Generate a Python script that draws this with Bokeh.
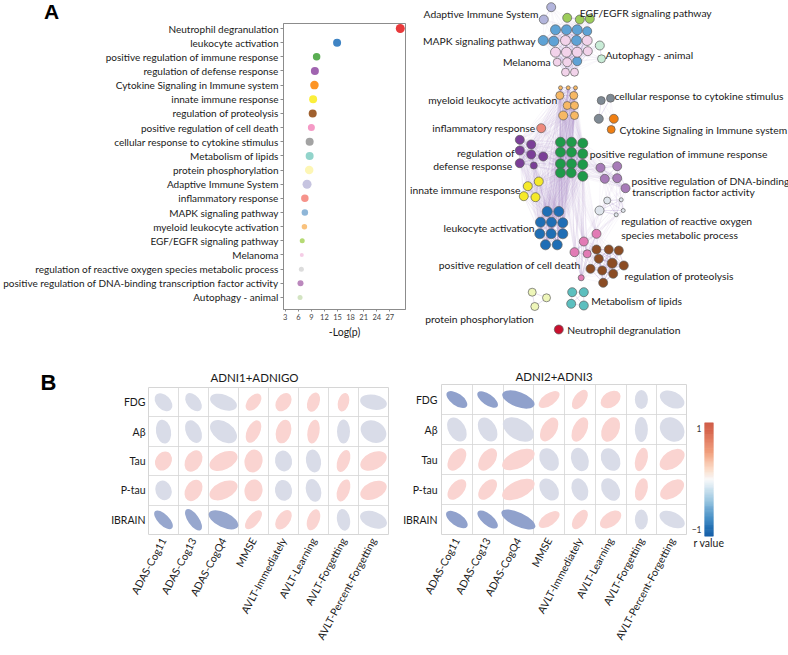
import numpy as np
from bokeh.plotting import figure
from bokeh.layouts import row, column
from bokeh.models import Range1d, FixedTicker, Plot
from bokeh.core.properties import value
from bokeh.embed import file_html
from bokeh.resources import INLINE

FONT = "Lato"
TXT = "#1a1a1a"

# ---------------- Panel A: enrichment dot plot ----------------
terms = ["Neutrophil degranulation", "leukocyte activation",
         "positive regulation of immune response", "regulation of defense response",
         "Cytokine Signaling in Immune system", "innate immune response",
         "regulation of proteolysis", "positive regulation of cell death",
         "cellular response to cytokine stimulus", "Metabolism of lipids",
         "protein phosphorylation", "Adaptive Immune System", "inflammatory response",
         "MAPK signaling pathway", "myeloid leukocyte activation",
         "EGF/EGFR signaling pathway", "Melanoma",
         "regulation of reactive oxygen species metabolic process",
         "positive regulation of DNA-binding transcription factor activity",
         "Autophagy - animal"]
neg_log_p = [29.4, 14.9, 10.2, 9.8, 9.7, 9.4, 9.3, 9.0, 8.6, 8.6,
             8.5, 8.0, 7.5, 7.5, 7.4, 6.9, 6.8, 6.7, 6.5, 6.4]
dot_size = [9, 8, 7.5, 8, 8.5, 8, 8, 7, 8, 8, 8.5, 9, 7.5, 6.5, 5.5, 5, 4, 5, 6, 5]
dot_color = ["#e8393b", "#3f84c4", "#5aae53", "#a064b0", "#fd9424", "#fbef3b",
             "#a0602e", "#f59ac6", "#a3a3a3", "#92d4cb", "#fdf6b5", "#c6c4e0",
             "#f6938b", "#8fb6d8", "#f9c27d", "#b5da74", "#f5cde6", "#dcdcdc",
             "#bb88bd", "#d3e4c2"]
x_ticks = [3, 6, 9, 12, 15, 18, 21, 24, 27]

# ---------------- Panel A: network (node positions of the drawn layout) ----------------
net_adaptive = [(550.7, 6.7, 9), (543.3, 19, 9)]
net_egf = [(566.7, 17.3, 9), (579.3, 19, 9), (589.3, 18.3, 9)]
net_mapk = [(555, 29.3, 10), (566, 29.3, 10), (576.7, 29.3, 10), (586.7, 30.7, 9),
            (542.7, 40, 10), (553.3, 40.7, 10), (576, 40, 10), (576.7, 60.7, 9)]
net_melanoma = [(565, 40, 10), (586.7, 40, 10), (555, 51.7, 10), (566, 51.7, 10),
                (576.7, 51.7, 10), (587.3, 50.7, 9), (556.7, 61.7, 8), (566.7, 61.7, 9),
                (565, 71.7, 8), (574, 71.7, 8)]
net_autophagy = [(599.3, 45, 9), (601, 58.3, 8)]
net_myeloid = [(560, 87.3, 4), (567.7, 87.3, 4), (575, 87.3, 4), (559.3, 95, 8),
               (573.3, 95, 8), (566.7, 105, 8), (574, 105, 8), (562.7, 115, 9), (574, 115, 8)]
net_cellresp = [(600.7, 100, 8), (610, 97.7, 8), (598.3, 118.3, 9)]
net_cytokine = [(613.3, 118.3, 9), (610.7, 129, 8)]
net_inflam = [(540.7, 127.7, 9)]
net_defense = [(519.3, 139.3, 9), (530.7, 144, 9), (519.3, 150, 9), (530.7, 154, 9),
               (542.7, 156, 9), (519.3, 162.7, 9), (533.3, 165, 7)]
net_posimm = [(560, 141.7, 10), (571, 141.7, 10), (582.3, 142.7, 10), (560, 151.7, 10),
              (571, 151.7, 10), (582.3, 153.3, 10), (560, 163.3, 10), (571, 163.3, 10),
              (582.3, 164, 10), (560, 172.3, 10), (570.7, 172.3, 10), (582.3, 175.7, 10)]
net_dna = [(600, 167.3, 9), (616.7, 165.7, 9), (604.3, 178.3, 9), (616.7, 177.7, 9), (625, 187.7, 9)]
net_innate = [(538.3, 181, 9), (527.3, 185.7, 9), (523.3, 195.7, 9), (535, 196.7, 9)]
net_ros = [(606.7, 200, 7), (620.7, 199.3, 4), (599, 210, 9), (622.7, 210, 4), (615.7, 214.3, 4)]
net_leuko = [(546.7, 211, 10), (558.3, 211, 10), (540, 221.7, 10), (551, 221.7, 10),
             (562.3, 222.3, 10), (539.3, 233.3, 10), (550.7, 233.3, 10), (562.3, 233.3, 10),
             (545, 244.3, 10), (556.7, 244.3, 10)]
net_celldeath = [(596, 233.3, 9), (583.3, 241, 9), (574, 251.7, 9), (586.7, 253.3, 8), (580.7, 277.3, 6)]
net_proteo = [(596, 249, 9), (608.3, 249, 9), (618.3, 250, 9), (598.3, 258.3, 9),
              (611.7, 262.7, 10), (623.3, 265, 9), (590, 268.3, 9), (601.7, 270, 9),
              (612.7, 273.3, 9), (602.7, 282.3, 9)]
net_phos = [(531.7, 291.7, 8), (546, 297.3, 8), (534.3, 306, 8)]
net_lipids = [(571.7, 291.7, 9), (583.3, 291.7, 9), (570.7, 303.3, 9), (583.3, 305, 9)]
net_neutro = [(558.3, 329, 9)]

net_clusters = {
    "adaptive": (net_adaptive, "#b3b5dc"), "egf": (net_egf, "#9ccc5a"),
    "mapk": (net_mapk, "#5ea2d5"), "melanoma": (net_melanoma, "#f2d3ea"),
    "autophagy": (net_autophagy, "#c9ecd7"), "myeloid": (net_myeloid, "#f7b864"),
    "cellresp": (net_cellresp, "#7f8a94"), "cytokine": (net_cytokine, "#f07f12"),
    "inflam": (net_inflam, "#ee8a7d"), "defense": (net_defense, "#7b3f98"),
    "posimm": (net_posimm, "#1e9a4a"), "dna": (net_dna, "#a77bb8"),
    "innate": (net_innate, "#f5e92a"), "ros": (net_ros, "#dfe5ec"),
    "leuko": (net_leuko, "#1f6eb5"), "celldeath": (net_celldeath, "#e27bb5"),
    "proteo": (net_proteo, "#8b4c24"), "phos": (net_phos, "#eef6b9"),
    "lipids": (net_lipids, "#5cbfbf"), "neutro": (net_neutro, "#c8102e"),
}
net_links = [("myeloid", "posimm"), ("myeloid", "defense"), ("posimm", "defense"),
             ("posimm", "leuko"), ("defense", "leuko"), ("innate", "defense"),
             ("innate", "posimm"), ("inflam", "defense"), ("inflam", "posimm"),
             ("inflam", "myeloid"), ("posimm", "dna"), ("dna", "ros"),
             ("celldeath", "proteo"), ("celldeath", "posimm"), ("ros", "celldeath"),
             ("mapk", "melanoma"), ("egf", "mapk"), ("egf", "melanoma"),
             ("autophagy", "melanoma"), ("adaptive", "mapk"), ("cellresp", "cytokine"),
             ("leuko", "innate"), ("leuko", "myeloid")]

net_label_text = ["Adaptive Immune System", "MAPK signaling pathway", "Melanoma",
                  "myeloid leukocyte activation", "inflammatory response", "regulation of",
                  "defense response", "innate immune response", "leukocyte activation",
                  "positive regulation of cell death", "protein phosphorylation"]
net_label_x = [538, 535, 550, 556.7, 535, 514, 511.7, 520, 534, 580, 533.3]
net_label_y = [13, 40, 61, 99, 127.7, 152, 165, 189, 227.3, 264, 318.3]
net_label2_text = ["EGF/EGFR signaling pathway", "Autophagy - animal",
                   "cellular response to cytokine stimulus",
                   "Cytokine Signaling in Immune system",
                   "positive regulation of immune response",
                   "positive regulation of DNA-binding", "transcription factor activity",
                   "regulation of reactive oxygen", "species metabolic process",
                   "regulation of proteolysis", "Metabolism of lipids",
                   "Neutrophil degranulation"]
net_label2_x = [579.3, 605, 614, 619, 589.3, 631, 631.7, 620.7, 620.7, 624, 590.7, 566.7]
net_label2_y = [12, 54, 95, 129, 153, 180, 191.7, 220, 234, 275, 300, 329.3]

# ---------------- Panel B: correlation ellipses ----------------
measures = ["ADAS-Cog11", "ADAS-Cog13", "ADAS-CogQ4", "MMSE", "AVLT-Immediately",
            "AVLT-Learning", "AVLT-Forgetting", "AVLT-Percent-Forgetting"]
imaging = ["FDG", "Aβ", "Tau", "P-tau", "IBRAIN"]

r_left = [[-0.12, -0.12, -0.12, 0.14, 0.14, 0.14, 0.14, -0.12],
          [-0.12, -0.12, -0.12, 0.14, 0.14, 0.14, -0.12, -0.12],
          [0.14, 0.14, 0.14, 0.14, -0.12, -0.12, 0.14, 0.14],
          [-0.12, 0.14, 0.14, 0.14, -0.12, -0.12, 0.14, 0.14],
          [-0.48, -0.48, -0.48, 0.14, 0.14, 0.14, -0.12, -0.12]]
major_left = [[21, 21, 28, 20, 20, 20, 19, 27],
              [24, 24, 30, 24, 24, 24, 24, 27],
              [20, 23, 30, 23, 21, 23, 23, 28],
              [20, 23, 30, 22, 21, 23, 23, 28],
              [24, 25, 32, 23, 22, 22, 22, 28]]
minor_left = [[14, 13, 15, 12, 14, 12, 11, 15],
              [15, 15, 19, 13, 15, 12, 13, 21],
              [16, 16, 17, 18, 17, 15, 12, 17],
              [16, 16, 17, 18, 17, 15, 12, 17],
              [11, 11, 15, 11, 13, 12, 13, 16]]
angle_left = [[-45, -50, -20, 50, 55, 70, 75, -10],
              [-80, -65, -35, 65, 75, 80, 90, -30],
              [60, 60, 25, 80, -80, -80, 70, 25],
              [-70, 60, 25, 80, -80, -75, 70, 25],
              [-45, -55, -25, 50, 55, 70, -80, -20]]

r_right = [[-0.52, -0.52, -0.52, 0.14, 0.14, 0.14, -0.12, -0.12],
           [-0.12, -0.12, -0.12, 0.14, 0.14, 0.14, -0.12, -0.12],
           [0.14, 0.14, 0.14, -0.12, -0.12, -0.12, 0.14, 0.14],
           [0.14, 0.14, 0.14, -0.12, -0.12, -0.12, 0.14, 0.14],
           [-0.52, -0.52, -0.52, 0.14, 0.14, 0.14, -0.12, -0.12]]
major_right = [[24, 24, 34, 24, 22, 22, 19, 26],
               [26, 26, 34, 26, 26, 26, 25, 27],
               [25, 25, 35, 24, 24, 24, 24, 28],
               [24, 24, 35, 24, 23, 24, 23, 27],
               [25, 25, 37, 24, 22, 24, 20, 27]]
minor_right = [[12, 11, 15, 12, 12, 15, 13, 16],
               [17, 17, 20, 15, 14, 17, 13, 22],
               [15, 15, 17, 18, 17, 18, 12, 17],
               [14, 14, 17, 17, 16, 17, 12, 16],
               [12, 11, 14, 12, 12, 14, 13, 15]]
angle_right = [[-35, -35, -20, 35, 55, 35, 90, -25],
               [-60, -60, -30, 60, 65, 65, 90, -45],
               [55, 55, 25, -60, -70, -60, 75, 35],
               [50, 50, 25, -55, -70, -60, 75, 35],
               [-35, -40, -25, 35, 55, 35, 90, -25]]

cbar_ticks = [-1, 1]

HAS_FRAME_ALIGN = "frame_align" in Plot.properties()


def fig(**kw):
    p = figure(output_backend="svg", toolbar_location=None, **kw)
    if HAS_FRAME_ALIGN:
        p.frame_align = False
    return p


def hex_rgb(c):
    return [int(c[i:i + 2], 16) for i in (1, 3, 5)]


def interp_color(v, vals, cols):
    rgb = [hex_rgb(c) for c in cols]
    out = [int(round(np.interp(v, vals, [c[k] for c in rgb]))) for k in range(3)]
    return "#%02x%02x%02x" % tuple(out)


ELL_V = [-0.6, -0.1, 0.1, 0.6]
ELL_C = ["#8195c6", "#dddfe9", "#fbdad8", "#f08a7e"]

# ================= Panel letter A =================
pAtop = fig(width=406, height=22, x_range=Range1d(0, 406), y_range=Range1d(22, 0),
            x_axis_location=None, y_axis_location=None, min_border=0)
pAtop.grid.visible = False
pAtop.outline_line_color = None
pAtop.text(x=[51], y=[11], text=["A"], text_font=value("Liberation Sans"),
           text_font_style="bold", text_font_size="21px", text_align="center",
           text_baseline="middle", text_color="black")

# ================= Dot plot =================
pA = fig(width=406, height=323, x_range=Range1d(2.6, 30.6), y_range=Range1d(19.85, -0.353),
         min_border_left=283, min_border_right=1, min_border_top=1, min_border_bottom=36)
pA.grid.visible = False
pA.outline_line_color = "#8c8c8c"
pA.scatter(x=neg_log_p, y=list(range(len(terms))), size=dot_size,
           fill_color=dot_color, line_color=None)
pA.yaxis.ticker = FixedTicker(ticks=list(range(len(terms))))
pA.yaxis.major_label_overrides = {i: t for i, t in enumerate(terms)}
pA.xaxis.ticker = FixedTicker(ticks=x_ticks)
pA.axis.axis_line_color = "#8c8c8c"
pA.axis.major_tick_line_color = "#8c8c8c"
pA.axis.minor_tick_line_color = None
pA.axis.major_tick_in = 0
pA.yaxis.major_tick_out = 3
pA.xaxis.major_tick_out = 2
pA.yaxis.major_label_standoff = 2
pA.xaxis.major_label_standoff = 2
pA.yaxis.major_label_text_font = FONT
pA.yaxis.major_label_text_font_size = "10px"
pA.yaxis.major_label_text_color = TXT
pA.xaxis.major_label_text_font = FONT
pA.xaxis.major_label_text_font_size = "7.5px"
pA.xaxis.major_label_text_color = "#444444"
pA.xaxis.axis_label = "-Log(p)"
pA.xaxis.axis_label_text_font = FONT
pA.xaxis.axis_label_text_font_style = "normal"
pA.xaxis.axis_label_text_font_size = "10.5px"
pA.xaxis.axis_label_text_color = TXT
pA.xaxis.axis_label_standoff = 3

# ================= Network =================
pN = fig(width=382, height=345, x_range=Range1d(406, 788), y_range=Range1d(345, 0),
         x_axis_location=None, y_axis_location=None, min_border=0)
pN.grid.visible = False
pN.outline_line_color = None

ex0, ey0, ex1, ey1 = [], [], [], []
for name, (nodes, col) in net_clusters.items():
    for a in range(len(nodes)):
        for b in range(a + 1, len(nodes)):
            ex0.append(nodes[a][0]); ey0.append(nodes[a][1])
            ex1.append(nodes[b][0]); ey1.append(nodes[b][1])
pN.segment(x0=ex0, y0=ey0, x1=ex1, y1=ey1, line_color="#a58cc9", line_alpha=0.45, line_width=0.6)
lx0, ly0, lx1, ly1 = [], [], [], []
for ca, cb in net_links:
    for na in net_clusters[ca][0]:
        for nb in net_clusters[cb][0]:
            lx0.append(na[0]); ly0.append(na[1]); lx1.append(nb[0]); ly1.append(nb[1])
pN.segment(x0=lx0, y0=ly0, x1=lx1, y1=ly1, line_color="#a58cc9", line_alpha=0.14, line_width=0.5)

nx, ny, ns, nc = [], [], [], []
for name, (nodes, col) in net_clusters.items():
    for (x, y, s) in nodes:
        nx.append(x); ny.append(y); ns.append(s); nc.append(col)
pN.scatter(x=nx, y=ny, size=ns, fill_color=nc, line_color="#5f5f5f", line_width=0.7)

pN.text(x=net_label_x, y=net_label_y, text=net_label_text, text_font=value(FONT),
        text_font_size="10.3px", text_align="right", text_baseline="middle", text_color=TXT)
pN.text(x=net_label2_x, y=net_label2_y, text=net_label2_text, text_font=value(FONT),
        text_font_size="10.3px", text_align="left", text_baseline="middle", text_color=TXT)

# ================= Panel letter B =================
pB = fig(width=100, height=302, x_range=Range1d(0, 100), y_range=Range1d(647, 345),
         x_axis_location=None, y_axis_location=None, min_border=0)
pB.grid.visible = False
pB.outline_line_color = None
pB.text(x=[48], y=[382], text=["B"], text_font=value("Liberation Sans"),
        text_font_style="bold", text_font_size="22px", text_align="center",
        text_baseline="middle", text_color="black")


# ================= Correlation ellipse maps =================
def corr_fig(title, r, major, minor, ang, width, mb_left, mb_right, mb_top, frame_h,
             title_offset, title_standoff, standoff):
    p = fig(width=width, height=302, x_range=Range1d(0, 8), y_range=Range1d(0, 5),
            min_border_left=mb_left, min_border_right=mb_right,
            min_border_top=mb_top, min_border_bottom=302 - mb_top - frame_h)
    xs, ys, ws, hs, an, cs = [], [], [], [], [], []
    for i in range(len(imaging)):
        for j in range(len(measures)):
            xs.append(j + 0.5); ys.append(len(imaging) - 0.5 - i)
            ws.append(major[i][j]); hs.append(minor[i][j])
            an.append(np.deg2rad(ang[i][j]))
            cs.append(interp_color(r[i][j], ELL_V, ELL_C))
    p.ellipse(x=xs, y=ys, width=ws, height=hs, angle=an, width_units="screen",
              height_units="screen", fill_color=cs, line_color=None)
    p.xgrid.ticker = FixedTicker(ticks=list(range(1, 8)))
    p.ygrid.ticker = FixedTicker(ticks=list(range(1, 5)))
    p.grid.grid_line_color = "#d6d6d6"
    p.grid.grid_line_width = 0.8
    p.outline_line_color = "#d6d6d6"
    p.xaxis.ticker = FixedTicker(ticks=[j + 0.5 for j in range(len(measures))])
    p.xaxis.major_label_overrides = {j + 0.5: m for j, m in enumerate(measures)}
    p.yaxis.ticker = FixedTicker(ticks=[i + 0.5 for i in range(len(imaging))])
    p.yaxis.major_label_overrides = {len(imaging) - 0.5 - i: n for i, n in enumerate(imaging)}
    p.xaxis.major_label_orientation = 1.08
    p.axis.axis_line_color = None
    p.axis.major_tick_line_color = None
    p.axis.minor_tick_line_color = None
    p.axis.major_tick_out = 0
    p.axis.major_tick_in = 0
    p.axis.major_label_text_font = FONT
    p.axis.major_label_text_font_size = "10.5px"
    p.axis.major_label_text_color = TXT
    p.xaxis.major_label_standoff = 4
    p.yaxis.major_label_standoff = standoff
    p.title.text = title
    p.title.align = "left"
    p.title.offset = title_offset
    p.title.standoff = title_standoff
    p.title.text_font = FONT
    p.title.text_font_style = "normal"
    p.title.text_font_size = "11.5px"
    p.title.text_color = TXT
    return p


pL = corr_fig("ADNI1+ADNIGO", r_left, major_left, minor_left, angle_left,
              295, 48, 7, 42, 148, 62, 7, 3)
pR = corr_fig("ADNI2+ADNI3", r_right, major_right, minor_right, angle_right,
              292, 46, 0, 39, 151, 74, 3, 4)

# ================= Colour bar =================
pC = fig(width=93, height=302, x_range=Range1d(0, 1), y_range=Range1d(-1.14, 1.125),
         min_border_left=17, min_border_right=67, min_border_top=77, min_border_bottom=111)
pC.grid.visible = False
pC.outline_line_color = None
CB_V = [-1.14, -0.8, -0.45, -0.15, 0.0, 0.2, 0.5, 0.8, 1.125]
CB_C = ["#0b57a4", "#3a87c2", "#8fc0dd", "#d8e8f2", "#f8f8f8", "#fbdcc9", "#f3a582",
        "#e1785c", "#cd5641"]
edges = np.linspace(-1.14, 1.125, 121)
mids = (edges[:-1] + edges[1:]) / 2
cb_cols = [interp_color(v, CB_V, CB_C) for v in mids]
pC.quad(left=0, right=1, bottom=edges[:-1], top=edges[1:], fill_color=cb_cols,
        line_color=cb_cols, line_width=0.6)
pC.yaxis.ticker = FixedTicker(ticks=cbar_ticks)
pC.xaxis.ticker = FixedTicker(ticks=[])
pC.axis.axis_line_color = None
pC.axis.major_tick_line_color = None
pC.axis.minor_tick_line_color = None
pC.axis.major_tick_out = 0
pC.axis.major_tick_in = 0
pC.yaxis.major_label_standoff = 3
pC.yaxis.major_label_text_font = FONT
pC.yaxis.major_label_text_font_size = "8.5px"
pC.yaxis.major_label_text_color = "#333333"
pC.xaxis.axis_label = "r value"
pC.xaxis.axis_label_standoff = 0
pC.xaxis.axis_label_text_font = FONT
pC.xaxis.axis_label_text_font_style = "normal"
pC.xaxis.axis_label_text_font_size = "10.5px"
pC.xaxis.axis_label_text_color = TXT

layout = column(row(column(pAtop, pA), pN), row(pB, pL, pR, pC))
open("out.html", "w").write(file_html(layout, INLINE, title="plot"))
